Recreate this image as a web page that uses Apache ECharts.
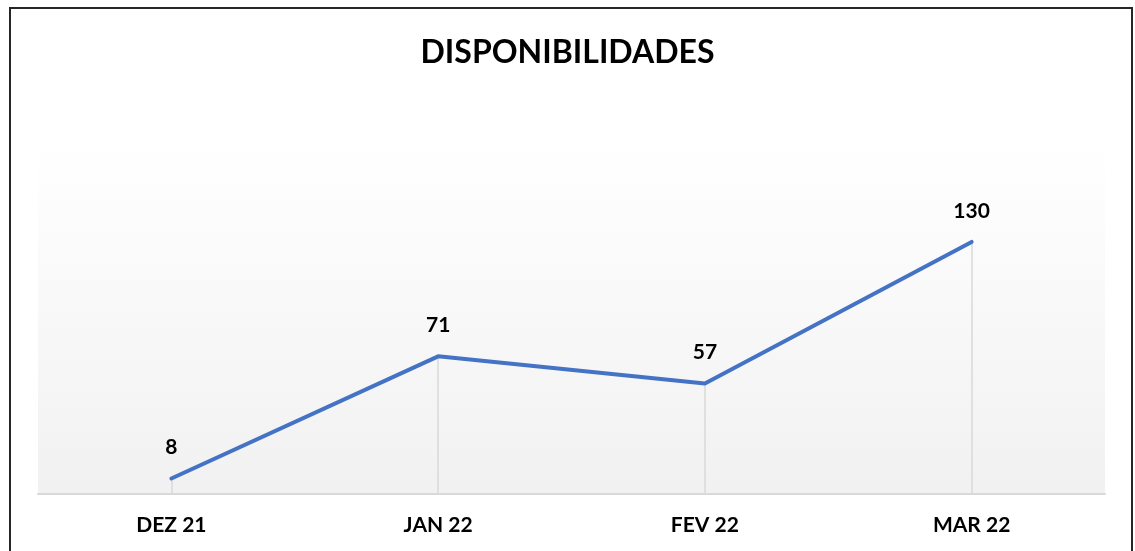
<!DOCTYPE html>
<html>
<head>
<meta charset="utf-8">
<script src="https://cdn.jsdelivr.net/npm/echarts@6/dist/echarts.min.js"></script>
<style>
  html, body { margin: 0; padding: 0; background: #fff; }
  #chart { width: 1135px; height: 551px; }
  #frame {
    position: absolute; left: 9px; top: 7px; width: 1120px; height: 560px;
    border: 2px solid #262626; pointer-events: none;
  }
</style>
</head>
<body>
<div id="chart"></div>
<div id="frame"></div>
<script>
// data
const months = ['DEZ 21', 'JAN 22', 'FEV 22', 'MAR 22'];
const disponibilidades = [8, 71, 57, 130];

const chart = echarts.init(document.getElementById('chart'));

const font = 'Lato, "Open Sans", sans-serif';

chart.setOption({
  animation: false,
  title: {
    text: 'DISPONIBILIDADES',
    left: 'center',
    top: 32,
    textStyle: { fontFamily: font, fontWeight: 'bold', fontSize: 32, color: '#000' }
  },
  grid: {
    left: 38, right: 30, top: 145, bottom: 57,
    show: true,
    borderWidth: 0,
    backgroundColor: new echarts.graphic.LinearGradient(0, 0, 0, 1, [
      { offset: 0, color: '#ffffff' },
      { offset: 1, color: '#f1f1f1' }
    ])
  },
  xAxis: {
    type: 'category',
    data: months,
    boundaryGap: true,
    axisTick: { show: false },
    axisLine: { lineStyle: { color: '#d9d9d9', width: 2 } },
    axisLabel: {
      margin: 21,
      fontFamily: font, fontWeight: 'bold', fontSize: 21, color: '#000'
    }
  },
  yAxis: {
    type: 'value',
    min: 0, max: 180,
    show: false,
    splitLine: { show: false }
  },
  series: [{
    type: 'line',
    data: disponibilidades,
    showSymbol: true,
    symbol: 'circle',
    symbolSize: 1,
    itemStyle: { color: '#4472C4' },
    lineStyle: { color: '#4472C4', width: 4, cap: 'round', join: 'round' },
    label: {
      show: true,
      position: 'top',
      distance: 20,
      fontFamily: font, fontWeight: 'bold', fontSize: 21, color: '#000'
    },
    markLine: {
      silent: true,
      symbol: 'none',
      label: { show: false },
      lineStyle: { color: '#d9d9d9', width: 1.5, type: 'solid' },
      z: 1,
      data: disponibilidades.map((v, i) => [{ coord: [i, 0] }, { coord: [i, v] }])
    }
  }]
});
</script>
</body>
</html>
